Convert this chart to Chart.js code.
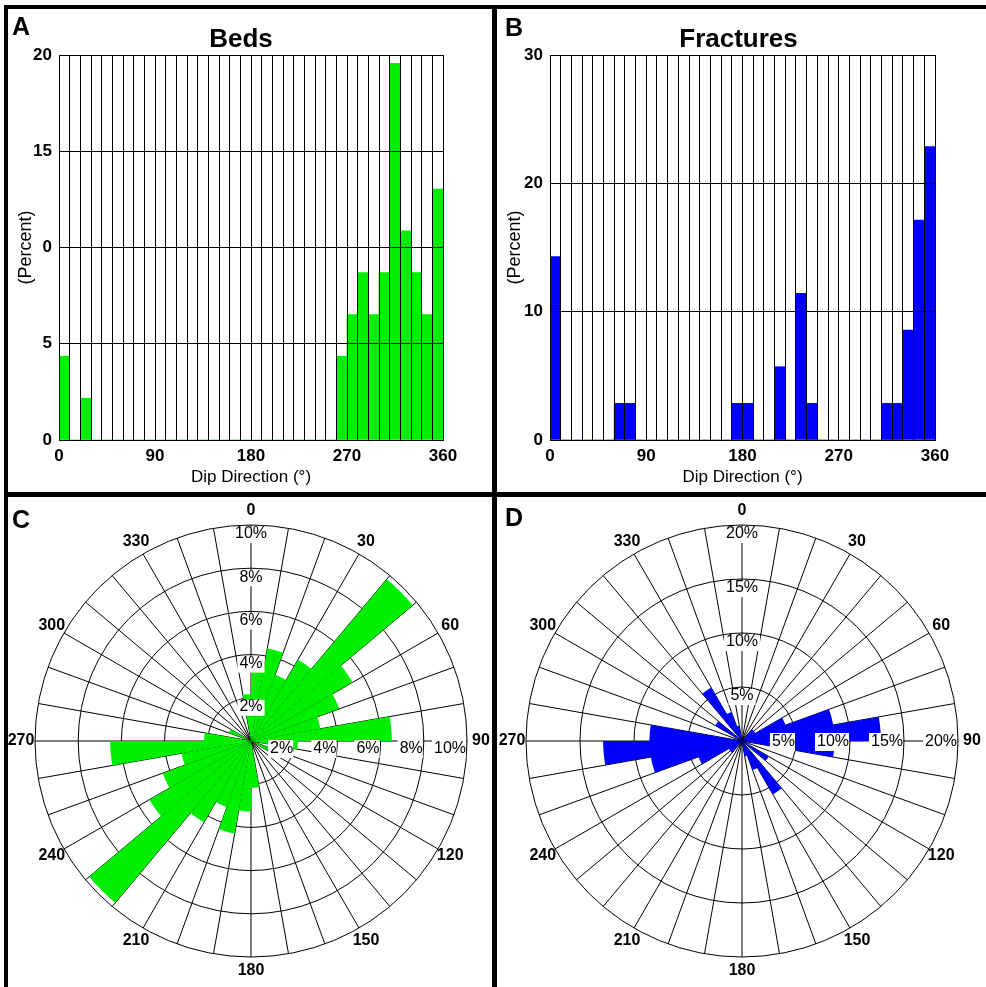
<!DOCTYPE html>
<html lang="en">
<head>
<meta charset="UTF-8" />
<title>Beds and Fractures</title>
<script src="https://cdn.jsdelivr.net/npm/chart.js@4.4.1/dist/chart.umd.min.js"></script>
<style>
  body { margin: 0; background: #fff; }
  #wrap { position: relative; width: 986px; height: 987px; background: #fff; overflow: hidden; }
  #wrap canvas { position: absolute; }
  .rule { position: absolute; background: #000; }
  .tag { position: absolute; font: bold 25px "Liberation Sans", Arial, sans-serif; line-height: 1; }
</style>
</head>
<body>
<div id="wrap">
  <canvas id="bedsHist" width="484" height="483" style="left:8px;top:9px"></canvas>
  <canvas id="fracHist" width="489" height="483" style="left:497px;top:9px"></canvas>
  <canvas id="bedsRose" width="484" height="490" style="left:8px;top:497px"></canvas>
  <canvas id="fracRose" width="489" height="490" style="left:497px;top:497px"></canvas>

  <div class="rule" style="left:4px;top:5px;width:982px;height:4px"></div>
  <div class="rule" style="left:4px;top:5px;width:4px;height:982px"></div>
  <div class="rule" style="left:492px;top:5px;width:5px;height:982px"></div>
  <div class="rule" style="left:4px;top:492px;width:982px;height:5px"></div>

  <div class="tag" style="left:12px;top:14px">A</div>
  <div class="tag" style="left:505px;top:15px">B</div>
  <div class="tag" style="left:12px;top:507px">C</div>
  <div class="tag" style="left:505px;top:505px">D</div>
</div>
<script>
const FONT = '"Liberation Sans", Arial, sans-serif';
Chart.defaults.font.family = FONT;
Chart.defaults.color = '#000';

// 10 degree bins, dip direction
const binStart = [0, 10, 20, 30, 40, 50, 60, 70, 80, 90, 100, 110, 120, 130, 140, 150, 160, 170,
                  180, 190, 200, 210, 220, 230, 240, 250, 260, 270, 280, 290, 300, 310, 320, 330, 340, 350];
const axisTicks = [0, 90, 180, 270, 360];

// percent of measurements per bin
const bedPct = [4.35, 0, 2.17, 0, 0, 0, 0, 0, 0, 0, 0, 0, 0, 0, 0, 0, 0, 0,
                0, 0, 0, 0, 0, 0, 0, 0, 4.35, 6.52, 8.70, 6.52, 8.70, 19.57, 10.87, 8.70, 6.52, 13.04];
const fracPct = [14.29, 0, 0, 0, 0, 0, 2.86, 2.86, 0, 0, 0, 0, 0, 0, 0, 0, 0, 2.86,
                 2.86, 0, 0, 5.71, 0, 11.43, 2.86, 0, 0, 0, 0, 0, 0, 2.86, 2.86, 8.57, 17.14, 22.86];

// rose diagrams (strike, both ends)
const compass = ['0', '', '', '30', '', '', '60', '', '', '90', '', '', '120', '', '', '150', '', '',
                 '180', '', '', '210', '', '', '240', '', '', '270', '', '', '300', '', '', '330', '', ''];
const bedRose = [3.26, 4.35, 3.26, 4.35, 9.78, 5.43, 4.35, 3.26, 6.52, 2.17, 0, 1.09, 0, 0, 0, 0, 0, 2.17,
                 3.26, 4.35, 3.26, 4.35, 9.78, 5.43, 4.35, 3.26, 6.52, 2.17, 0, 1.09, 0, 0, 0, 0, 0, 2.17];
const fracRose = [0, 0, 0, 0, 1.43, 1.43, 4.29, 8.57, 12.86, 8.57, 0, 0, 2.86, 0, 5.71, 2.86, 1.43, 0,
                  0, 0, 0, 0, 1.43, 1.43, 4.29, 8.57, 12.86, 8.57, 0, 0, 2.86, 0, 5.71, 2.86, 1.43, 0];

const GREEN = '#00ee00';
const BLUE = '#0000ff';

// panel heading, drawn a little off the canvas centre like the original
const panelTitle = {
  id: 'panelTitle',
  afterDraw(chart, args, opts) {
    const ctx = chart.ctx;
    ctx.save();
    ctx.font = 'bold 26px ' + FONT;
    ctx.fillStyle = '#000';
    ctx.textAlign = 'center';
    ctx.textBaseline = 'middle';
    ctx.fillText(opts.text, chart.width / 2 + opts.shift, 31);
    ctx.restore();
  }
};

function histChart(id, values, color, yMax, yStep, title, shift, yWidth, padRight, yLabel) {
  return new Chart(document.getElementById(id), {
    type: 'bar',
    data: {
      datasets: [{
        data: binStart.map((b, i) => ({ x: b + 5, y: values[i] })),
        backgroundColor: color,
        borderWidth: 0,
        barPercentage: 1,
        categoryPercentage: 1
      }]
    },
    options: {
      responsive: false,
      animation: false,
      layout: { padding: { left: 0, right: padRight, top: 46, bottom: 0 } },
      plugins: {
        legend: { display: false },
        tooltip: { enabled: false },
        panelTitle: { text: title, shift: shift }
      },
      scales: {
        x: {
          type: 'linear',
          min: 0,
          max: 360,
          offset: false,
          grid: { offset: false, color: '#000', z: 1, drawTicks: false },
          border: { color: '#000', z: 1 },
          ticks: {
            stepSize: 10,
            autoSkip: false,
            maxRotation: 0,
            padding: 6,
            font: { size: 17, weight: 'bold' },
            callback: v => axisTicks.includes(v) ? String(v) : ''
          },
          title: { display: true, text: 'Dip Direction (°)', font: { size: 17 }, padding: { top: 4, bottom: 4 } },
          afterFit: s => { s.height = 52; }
        },
        y: {
          min: 0,
          max: yMax,
          grid: { color: '#000', z: 1, drawTicks: false },
          border: { color: '#000', z: 1 },
          ticks: { stepSize: yStep, padding: 7, font: { size: 17, weight: 'bold' }, callback: yLabel },
          title: { display: true, text: '(Percent)', font: { size: 18 }, padding: { top: 7, bottom: 2 } },
          afterFit: s => { s.width = yWidth; }
        }
      }
    },
    plugins: [panelTitle]
  });
}

// percent rings and compass labels for the rose diagrams
const roseText = {
  id: 'roseText',
  afterDraw(chart, args, opts) {
    const r = chart.scales.r;
    const ctx = chart.ctx;
    const cx = r.xCenter, cy = r.yCenter;
    ctx.save();
    ctx.fillStyle = '#000';
    ctx.font = 'bold 16px ' + FONT;
    ctx.textAlign = 'center';
    ctx.textBaseline = 'middle';
    chart.data.labels.forEach((txt, i) => {
      if (!txt) return;
      const p = r.getPointPosition(i, r.drawingArea + 14);
      ctx.fillText(txt, p.x, p.y);
    });
    ctx.font = '16px ' + FONT;
    r.ticks.forEach(t => {
      if (!t.value) return;
      const d = r.getDistanceFromCenterForValue(t.value);
      const txt = t.value + '%';
      const w = ctx.measureText(txt).width;
      // north axis, just inside the ring
      ctx.fillStyle = '#fff';
      ctx.fillRect(cx - w / 2 - 2, cy - d + 2, w + 4, 16);
      ctx.fillStyle = '#000';
      ctx.textAlign = 'center';
      ctx.fillText(txt, cx, cy - d + 9);
      // east axis, ending at the ring
      const ey = cy + opts.eastShift;
      ctx.fillStyle = '#fff';
      ctx.fillRect(cx + d - w - 3, ey - 9, w + 2, 18);
      ctx.fillStyle = '#000';
      ctx.textAlign = 'right';
      ctx.fillText(txt, cx + d - 1, ey);
    });
    ctx.restore();
  }
};

function roseChart(id, values, color, maxPct, step, pad, eastShift) {
  return new Chart(document.getElementById(id), {
    type: 'polarArea',
    data: {
      labels: compass,
      datasets: [{ data: values, backgroundColor: color, borderWidth: 0 }]
    },
    options: {
      responsive: false,
      animation: false,
      layout: { padding: pad },
      plugins: {
        legend: { display: false },
        tooltip: { enabled: false },
        roseText: { eastShift: eastShift }
      },
      scales: {
        r: {
          min: 0,
          max: maxPct,
          startAngle: 0,
          ticks: { display: false, stepSize: step, z: 1 },
          grid: { circular: true, color: '#000', lineWidth: 1 },
          angleLines: { display: true, color: '#000', lineWidth: 1 },
          pointLabels: { display: false }
        }
      }
    },
    plugins: [roseText]
  });
}

histChart('bedsHist', bedPct, GREEN, 20, 5, 'Beds', -9, 51, 49, v => v === 10 ? '0' : String(v));
histChart('fracHist', fracPct, BLUE, 30, 10, 'Fractures', -3, 53, 51, v => String(v));
roseChart('bedsRose', bedRose, GREEN, 10, 2, { left: 27, right: 25, top: 28, bottom: 30 }, 8);
roseChart('fracRose', fracRose, BLUE, 20, 5, { left: 29, right: 28, top: 28, bottom: 30 }, 1);
</script>
</body>
</html>
